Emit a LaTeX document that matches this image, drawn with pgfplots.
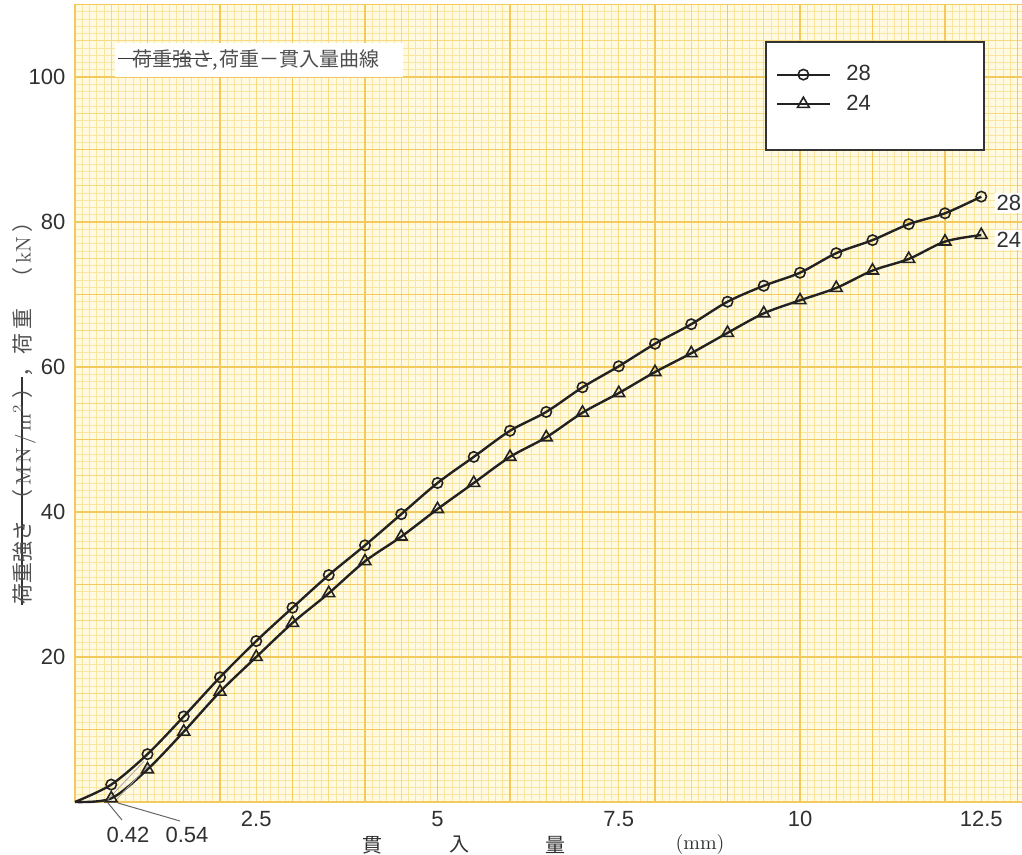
\documentclass[border=0pt]{standalone}
\usepackage{pgfplots}
\pgfplotsset{compat=1.18}
\usepackage{fontspec}
\newfontfamily\sansf{Liberation Sans}
\newfontfamily\cjk{Noto Sans CJK JP}
\definecolor{paper}{HTML}{FFFAE0}
\definecolor{gminor}{HTML}{F9E5A0}
\definecolor{gmed}{HTML}{F6D981}
\definecolor{gmajor}{HTML}{F2CA5E}
\definecolor{ink}{HTML}{222222}
\definecolor{txt}{HTML}{303030}
\newsavebox\strikebox
\newcommand\strike[1]{\sbox\strikebox{#1}\rlap{\color{black!80}\rule[0.36em]{\wd\strikebox}{0.9pt}}\usebox\strikebox}
\newcommand\strikeext[2]{\sbox\strikebox{#2}\llap{\color{black!80}\rule[0.36em]{#1}{0.9pt}}\rlap{\color{black!80}\rule[0.36em]{\wd\strikebox}{0.9pt}}\usebox\strikebox}
\begin{document}
\begin{tikzpicture}
\useasboundingbox (-37.5pt,-26.5pt) rectangle (473.5pt,401pt);
\fill[paper] (0,0) rectangle (476pt,398.75pt);
\draw[gminor, line width=0.4pt, step=3.625pt] (0,0) grid (476pt,398.8pt);
\draw[gmed, line width=0.55pt, step=18.125pt] (0,0) grid (476pt,398.8pt);
\draw[gmajor, line width=0.8pt, step=36.25pt] (0,0) grid (476pt,398.8pt);
\begin{axis}[
  at={(0pt,0pt)}, anchor=origin,
  x=36.25pt, y=3.625pt,
  xmin=0, xmax=13.05, ymin=0, ymax=110,
  axis line style={draw=none}, tick style={draw=none},
  xtick={2.5,5,7.5,10,12.5}, ytick={20,40,60,80,100},
  clip=false,
  /pgf/number format/assume math mode=true,
  tick label style={font=\sansf\fontsize{11}{13}\selectfont, text=txt},
  yticklabel style={xshift=-1.3pt},
  xticklabel style={yshift=-1.1pt},
  legend cell align=left,
  legend style={at={(axis cs:9.669,102.2)}, anchor=north west, draw=none, fill=none,
    inner xsep=0pt, inner ysep=0pt, row sep=1.5pt, column sep=6pt,
    nodes={inner sep=2pt}, font=\sansf\fontsize{11}{13}\selectfont, text=txt},
  legend image code/.code={\draw[#1, line width=1pt, mark repeat=2, mark phase=2] plot coordinates {(0pt,0pt) (13pt,0pt) (26pt,0pt)};},
]
% boxes
\fill[white] (axis cs:0.552,100) rectangle (axis cs:4.524,104.69);
\filldraw[fill=white, draw=black!80, line width=0.6pt] (axis cs:9.531,89.93) rectangle (axis cs:12.538,104.83);
\node[anchor=west, inner sep=0pt, font=\cjk\fontsize{10}{12}\selectfont, text=txt!85] at (axis cs:0.786,102.34) {\strikeext{7pt}{荷重強さ},\hspace{1pt}荷重－貫入量曲線};

\addplot[draw=ink, line width=1.2pt, smooth, mark=o, mark size=2.6pt, mark phase=2, mark repeat=1, mark options={solid, line width=0.8pt}] coordinates {
(0,0) (0.5,2.4) (1,6.6) (1.5,11.8) (2,17.2) (2.5,22.2) (3,26.8) (3.5,31.3) (4,35.4) (4.5,39.7) (5,44.0) (5.5,47.6) (6,51.2) (6.5,53.8) (7,57.2) (7.5,60.1) (8,63.2) (8.5,65.9) (9,69.0) (9.5,71.2) (10,73.0) (10.5,75.7) (11,77.5) (11.5,79.7) (12,81.2) (12.5,83.5)};
\addlegendentry{28}
\addplot[draw=ink, line width=1.2pt, smooth, mark=triangle, mark size=3.4pt, mark phase=2, mark repeat=1, mark options={solid, line width=0.8pt}] coordinates {
(0,0) (0.5,0.5) (1,4.5) (1.5,9.7) (2,15.2) (2.5,20.0) (3,24.7) (3.5,28.8) (4,33.2) (4.5,36.6) (5,40.4) (5.5,44.0) (6,47.6) (6.5,50.3) (7,53.7) (7.5,56.4) (8,59.3) (8.5,61.9) (9,64.7) (9.5,67.4) (10,69.2) (10.5,70.9) (11,73.3) (11.5,74.9) (12,77.3) (12.5,78.2)};
\addlegendentry{24}
\addplot[forget plot, draw=gray!70, line width=0.4pt] coordinates {(0.42,0) (0.95,5.6)};
\addplot[forget plot, draw=gray!70, line width=0.4pt] coordinates {(0.54,0) (1.0,4.9)};

% leader lines and labels
\draw[gray!80!black, line width=0.5pt] (axis cs:0.455,-0.14) -- (axis cs:0.648,-2.48);
\draw[gray!80!black, line width=0.5pt] (axis cs:0.593,-0.14) -- (axis cs:1.448,-2.62);
\node[font=\sansf\fontsize{11}{13}\selectfont, text=txt] at (axis cs:0.731,-4.55) {0.42};
\node[font=\sansf\fontsize{11}{13}\selectfont, text=txt] at (axis cs:1.545,-4.55) {0.54};

% end labels
\node[anchor=west, fill=white, inner sep=1pt, font=\sansf\fontsize{11}{13}\selectfont, text=txt] at (axis cs:12.68,82.62) {28};
\node[anchor=west, fill=white, inner sep=1pt, font=\sansf\fontsize{11}{13}\selectfont, text=txt] at (axis cs:12.68,77.52) {24};

% x label
\node[font=\cjk\fontsize{10}{12}\selectfont, text=txt] at (axis cs:4.097,-5.93) {貫};
\node[font=\cjk\fontsize{10}{12}\selectfont, text=txt] at (axis cs:5.310,-5.93) {入};
\node[font=\cjk\fontsize{10}{12}\selectfont, text=txt] at (axis cs:6.621,-5.93) {量};
\node[font=\rmfamily\fontsize{10}{12}\selectfont, text=txt] at (axis cs:8.621,-5.93) {(mm)};

% y label
\node[rotate=90, anchor=west, inner sep=0pt, font=\cjk\fontsize{10.5}{12}\selectfont, text=txt!85] at (axis cs:-0.70,27.17)
 {\strike{荷重強さ\hspace{5pt}（\hspace{2pt}{\rmfamily M\hspace{1.5pt}N\hspace{1.5pt}/\hspace{1.5pt}m\textsuperscript{2}}\hspace{3pt}）}，\hspace{1pt}荷\hspace{2pt}重\hspace{10pt}（\hspace{2pt}{\rmfamily kN}\hspace{2pt}）};
\end{axis}
\end{tikzpicture}
\end{document}
